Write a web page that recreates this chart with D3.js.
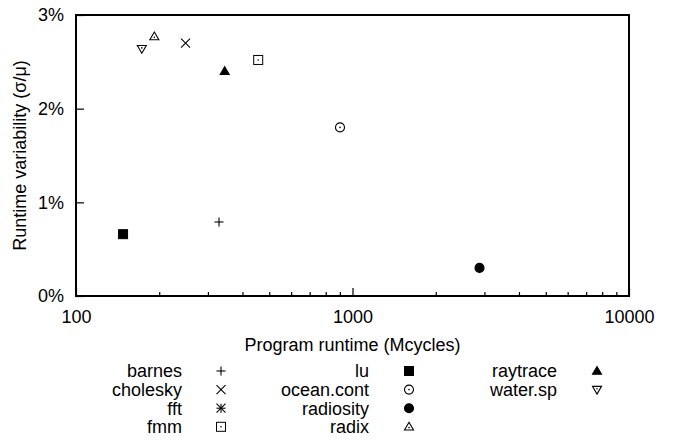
<!DOCTYPE html>
<html>
<head>
<meta charset="utf-8">
<script src="https://cdn.jsdelivr.net/npm/d3@7"></script>
<style>
  body { margin: 0; background: #fff; }
  svg text { font-family: "Liberation Sans", Arial, Helvetica, sans-serif; font-size: 18px; fill: #000; }
</style>
</head>
<body>
<svg width="675" height="443"></svg>
<script>
// benchmark names, in legend order
var names = ["barnes", "cholesky", "fft", "fmm", "lu", "ocean.cont", "radiosity", "radix", "raytrace", "water.sp"];
// program runtime in Mcycles (fft is not plotted)
var runtime = [329, 249, null, 456, 148, 901, 2880, 192, 345, 173];
// runtime variability, sigma/mu
var variability = [0.0079, 0.0270, null, 0.0252, 0.0066, 0.0180, 0.0030, 0.0277, 0.0240, 0.0264];
var symbols = ["plus", "cross", "star", "boxdot", "box", "circledot", "disc", "tridot", "tri", "dtri"];
var yTicks = [0, 0.01, 0.02, 0.03];

var svg = d3.select("svg");
var plotL = 76, plotR = 629, plotT = 15, plotB = 296;

var x = d3.scaleLog().domain([100, 10000]).range([plotL, plotR]);
var y = d3.scaleLinear().domain([0, 0.03]).range([plotB, plotT]);

var data = names.map(function(n, i) {
    return {name: n, x: runtime[i], y: variability[i], sym: symbols[i]};
});

// x axis with minor ticks pointing inward
var isMajor = function(d) { return [100, 1000, 10000].indexOf(d) >= 0; };
var xAxis = svg.append("g")
    .attr("transform", "translate(0," + plotB + ")")
    .call(d3.axisBottom(x)
        .tickValues(x.ticks())
        .tickSize(-4)
        .tickPadding(14)
        .tickFormat(function(d) { return isMajor(d) ? d : ""; }));
xAxis.select(".domain").remove();
xAxis.selectAll(".tick line")
    .attr("y2", function(d) { return isMajor(d) ? -8 : -4; })
    .attr("stroke", "#000").attr("stroke-width", 1.2);
xAxis.selectAll("text").attr("y", 14).style("font-size", "18px").style("font-family", null);

var yAxis = svg.append("g")
    .attr("transform", "translate(" + plotL + ",0)")
    .call(d3.axisLeft(y)
        .tickValues(yTicks)
        .tickSize(-8)
        .tickPadding(12)
        .tickFormat(function(d) { return Math.round(d * 100) + "%"; }));
yAxis.select(".domain").remove();
yAxis.selectAll(".tick line").attr("stroke", "#000").attr("stroke-width", 1.2);
yAxis.selectAll("text").attr("x", -12).style("font-size", "18px").style("font-family", null);

// frame
svg.append("rect")
    .attr("x", plotL).attr("y", plotT)
    .attr("width", plotR - plotL).attr("height", plotB - plotT)
    .attr("fill", "none").attr("stroke", "#000").attr("stroke-width", 2);

svg.append("text")
    .attr("x", (plotL + plotR) / 2).attr("y", 351)
    .attr("text-anchor", "middle")
    .text("Program runtime (Mcycles)");

svg.append("text")
    .attr("transform", "translate(26," + (plotT + plotB) / 2 + ") rotate(-90)")
    .attr("text-anchor", "middle")
    .text("Runtime variability (σ/μ)");

// gnuplot-like point symbols
function drawSymbol(g, sym) {
    var s = 4.5;
    var line = function(x1, y1, x2, y2) {
        g.append("line").attr("x1", x1).attr("y1", y1).attr("x2", x2).attr("y2", y2)
            .attr("stroke", "#000").attr("stroke-width", 1.1);
    };
    var dot = function() {
        g.append("circle").attr("r", 0.8).attr("fill", "#000");
    };
    if (sym == "plus") {
        line(-s, 0, s, 0); line(0, -s, 0, s);
    } else if (sym == "cross") {
        line(-s, -s, s, s); line(-s, s, s, -s);
    } else if (sym == "star") {
        line(-s, 0, s, 0); line(0, -s, 0, s);
        line(-s, -s, s, s); line(-s, s, s, -s);
    } else if (sym == "box" || sym == "boxdot") {
        g.append("rect").attr("x", -s).attr("y", -s).attr("width", 2 * s).attr("height", 2 * s)
            .attr("fill", sym == "box" ? "#000" : "none").attr("stroke", "#000").attr("stroke-width", 1);
        if (sym == "boxdot") dot();
    } else if (sym == "disc" || sym == "circledot") {
        g.append("circle").attr("r", s)
            .attr("fill", sym == "disc" ? "#000" : "none").attr("stroke", "#000").attr("stroke-width", 1.1);
        if (sym == "circledot") dot();
    } else if (sym == "tri" || sym == "tridot") {
        g.append("path").attr("d", "M0,-4.5L4.5,3.2L-4.5,3.2Z")
            .attr("fill", sym == "tri" ? "#000" : "none").attr("stroke", "#000").attr("stroke-width", 1.1);
        if (sym == "tridot") g.append("circle").attr("cy", 0.8).attr("r", 0.8).attr("fill", "#000");
    } else if (sym == "dtri") {
        g.append("path").attr("d", "M0,4.5L4.5,-3.2L-4.5,-3.2Z")
            .attr("fill", "none").attr("stroke", "#000").attr("stroke-width", 1.1);
        g.append("circle").attr("cy", -0.8).attr("r", 0.8).attr("fill", "#000");
    }
}

svg.append("g").selectAll("g")
    .data(data.filter(function(d) { return d.x != null; }))
    .enter().append("g")
    .attr("transform", function(d) { return "translate(" + x(d.x) + "," + y(d.y) + ")"; })
    .each(function(d) { drawSymbol(d3.select(this), d.sym); });

// legend: 3 columns, 4 rows
var colText = [182, 369, 557], colSym = [221, 409, 597];
var legend = svg.append("g").selectAll("g")
    .data(data)
    .enter().append("g")
    .attr("transform", function(d, i) {
        return "translate(0," + (371 + (i % 4) * 18.6) + ")";
    });
legend.append("text")
    .attr("x", function(d, i) { return colText[Math.floor(i / 4)]; })
    .attr("dy", "0.35em")
    .attr("text-anchor", "end")
    .text(function(d) { return d.name; });
legend.append("g")
    .attr("transform", function(d, i) { return "translate(" + colSym[Math.floor(i / 4)] + ",0)"; })
    .each(function(d) { drawSymbol(d3.select(this), d.sym); });
</script>
</body>
</html>
